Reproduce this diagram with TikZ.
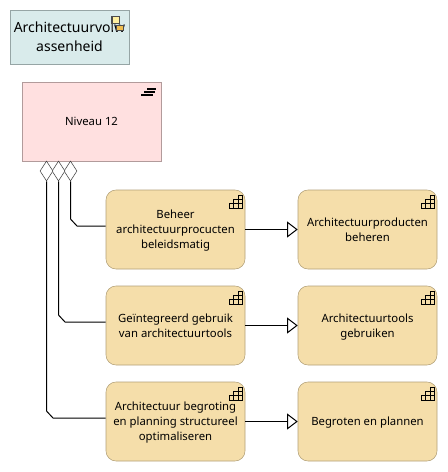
\documentclass[tikz,border=0pt]{standalone}
\usepackage{fontspec}
\setmainfont{Noto Sans}
\usetikzlibrary{arrows.meta,shapes.geometric}
\definecolor{legendfill}{RGB}{217,235,235}
\definecolor{legendline}{RGB}{150,165,165}
\definecolor{levelfill}{RGB}{255,224,224}
\definecolor{levelline}{RGB}{178,155,155}
\definecolor{capfill}{RGB}{245,222,170}
\definecolor{capline}{RGB}{178,160,120}
\definecolor{flagfill}{RGB}{255,240,160}
\definecolor{flagfront}{RGB}{240,190,80}
\tikzset{
	legendbox/.style={draw=legendline,fill=legendfill,rectangle,minimum width=89.25pt,minimum height=40.5pt,inner sep=0pt,align=center,text depth=0pt,font=\fontsize{10.5}{14.25}\selectfont},
	levelbox/.style={draw=levelline,fill=levelfill,rectangle,minimum width=104.25pt,minimum height=59.25pt,inner sep=0pt,align=center,text depth=0pt,font=\fontsize{8.5}{11.25}\selectfont},
	capbox/.style={draw=capline,fill=capfill,rectangle,rounded corners=7.5pt,minimum width=104.25pt,minimum height=59.25pt,inner sep=0pt,align=center,text depth=0pt,font=\fontsize{8.5}{11.25}\selectfont},
	aggr/.style={draw=black!75,fill=white,diamond,minimum width=9.75pt,minimum height=15pt,inner sep=0pt},
	link/.style={draw=black,line width=0.75pt},
	spec/.style={draw=black,line width=0.75pt,-{Triangle[open,fill=white,length=8pt,width=12pt]}},
}
% trapje rechtsboven in een capability
\newcommand{\stairicon}[2]{
	\draw [line width=0.5pt] (#1,#2) -- (#1+13,#2) -- (#1+13,#2-13) -- (#1+9,#2-13) -- (#1+9,#2-9) -- (#1+4.5,#2-9) -- (#1+4.5,#2-4.5) -- (#1,#2-4.5) -- cycle ;
	\draw [line width=0.5pt] (#1+4.5,#2) -- (#1+4.5,#2-4.5) -- (#1+13,#2-4.5) (#1+9,#2) -- (#1+9,#2-9) -- (#1+13,#2-9) ;
}
\begin{document}
\begin{tikzpicture}[x=0.75pt,y=0.75pt,yscale=-1,xscale=1]
	\useasboundingbox (0,0) rectangle (448,472);
	
	% Legenda
	\node [legendbox] (legend) at (69.5,37) {Architectuurvolw\\assenheid};
	\draw [fill=flagfill,draw=black!70,line width=0.5pt] (111.5,16.5) rectangle (119,23);
	\draw [draw=black!70,line width=0.5pt] (112,17) -- (112,30);
	\draw [fill=flagfront,draw=black!70,line width=0.5pt] (116,25) rectangle (123.5,30);
	
	% Niveau
	\node [levelbox] (level) at (91.5,121.5) {Niveau 12};
	\draw [line width=1pt] (147,89) -- (156,89) (144,92) -- (155,92) (141,95) -- (153,95);
	
	% Capabilities
	\node [capbox] (beheer) at (175.5,229.5) {Beheer\\architectuurprocucten\\beleidsmatig};
	\node [capbox] (producten) at (367.5,229.5) {Architectuurproducten\\beheren};
	\node [capbox] (gebruik) at (175.5,325.5) {Geïntegreerd gebruik\\van architectuurtools};
	\node [capbox] (tools) at (367.5,325.5) {Architectuurtools\\gebruiken};
	\node [capbox] (begroting) at (175.5,421.5) {Architectuur begroting\\en planning structureel\\optimaliseren};
	\node [capbox] (plannen) at (367.5,421.5) {Begroten en plannen};
	
	\stairicon{229}{208}
	\stairicon{421}{208}
	\stairicon{229}{304}
	\stairicon{421}{304}
	\stairicon{229}{400}
	\stairicon{421}{400}
	
	% Aggregaties
	\node [aggr] (aggrA) at (70.5,171) {};
	\node [aggr] (aggrB) at (58.5,171) {};
	\node [aggr] (aggrC) at (46.5,171) {};
	
	\coordinate (bendA) at (70.5,219);
	\coordinate (endA) at (77,226);
	\coordinate (bendB) at (58.5,315);
	\coordinate (endB) at (65,322);
	\coordinate (bendC) at (46.5,411);
	\coordinate (endC) at (53,418);
	
	\draw [link] (aggrA.south) -- (bendA) -- (endA) -- (beheer.west |- endA);
	\draw [link] (aggrB.south) -- (bendB) -- (endB) -- (gebruik.west |- endB);
	\draw [link] (aggrC.south) -- (bendC) -- (endC) -- (begroting.west |- endC);
	
	% Specialisaties
	\draw [spec] (beheer) -- (producten);
	\draw [spec] (gebruik) -- (tools);
	\draw [spec] (begroting) -- (plannen);
	
\end{tikzpicture}
\end{document}
